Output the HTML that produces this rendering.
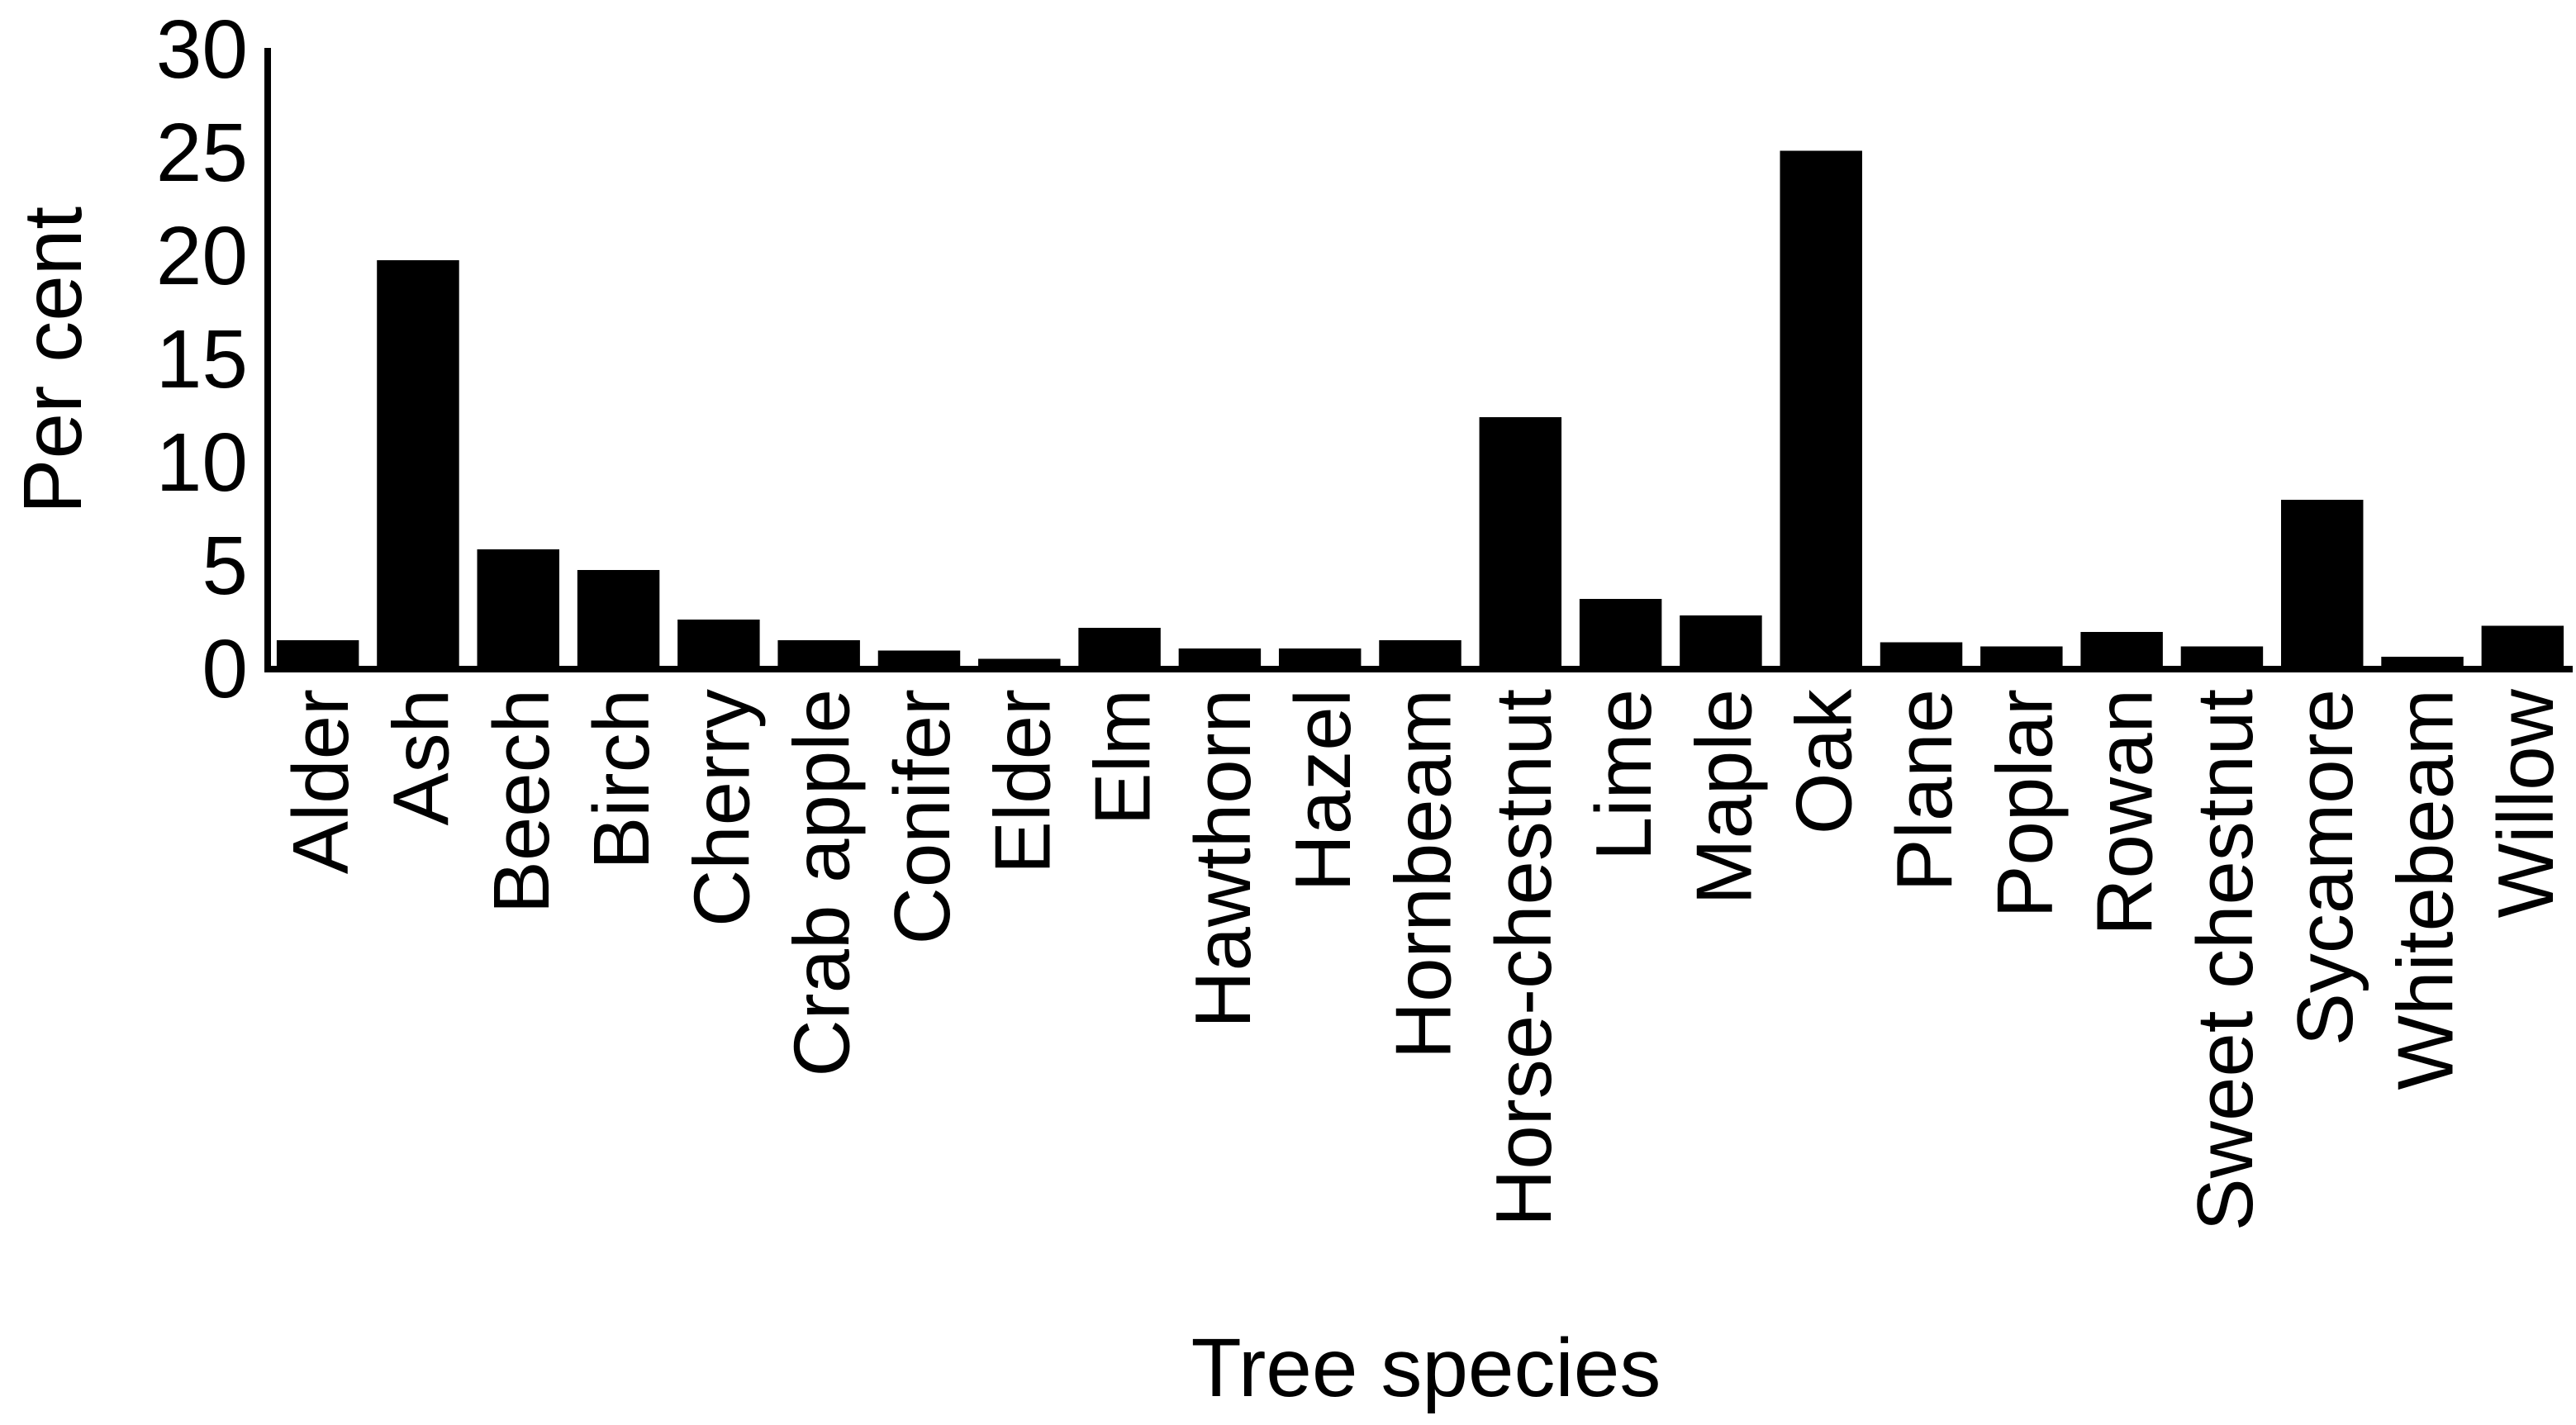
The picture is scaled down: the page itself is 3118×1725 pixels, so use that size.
<!DOCTYPE html>
<html><head><meta charset="utf-8"><style>
html,body{margin:0;padding:0;background:#fff;}
svg{display:block;font-family:"Liberation Sans",Arial,sans-serif;}
</style></head><body>
<svg id="chart" width="3118" height="1725" viewBox="0 0 3118 1725" xmlns="http://www.w3.org/2000/svg">
<rect width="3118" height="1725" fill="#fff"/>
<g id="bars"></g>
<g id="yticks"></g>
<g id="xlabels"></g>
<line x1="324" y1="58" x2="324" y2="814" stroke="#000" stroke-width="8"/>
<line x1="320" y1="810" x2="3114" y2="810" stroke="#000" stroke-width="8"/>
<text transform="translate(64,436) rotate(-90)" text-anchor="middle" dominant-baseline="central" font-size="100">Per cent</text>
<text x="1726" y="1690" text-anchor="middle" font-size="100">Tree species</text>
</svg>
<script>
const categories = ["Alder","Ash","Beech","Birch","Cherry","Crab apple","Conifer","Elder","Elm","Hawthorn","Hazel","Hornbeam","Horse-chestnut","Lime","Maple","Oak","Plane","Poplar","Rowan","Sweet chestnut","Sycamore","Whitebeam","Willow"];
const values = [1.4,19.8,5.8,4.8,2.4,1.4,0.9,0.5,2.0,1.0,1.0,1.4,12.2,3.4,2.6,25.1,1.3,1.1,1.8,1.1,8.2,0.6,2.1];
const yTicks = [0,5,10,15,20,25,30];
const NS="http://www.w3.org/2000/svg";
const x0=324, x1=3114, yBase=810, yTop=60, yMax=30;
const n=categories.length;
const bw=(x1-x0)/n;
function xCenter(i){return x0+bw*(i+0.5);}
function yScale(v){return yBase-(v/yMax)*(yBase-yTop);}
const gb=document.getElementById('bars');
const gy=document.getElementById('yticks');
const gx=document.getElementById('xlabels');
categories.forEach((c,i)=>{
  const r=document.createElementNS(NS,'rect');
  
  
  const w=bw*0.82;
  r.setAttribute('x',xCenter(i)-w/2);
  r.setAttribute('y',yScale(values[i]));
  r.setAttribute('width',w);
  r.setAttribute('height',yBase-yScale(values[i]));
  r.setAttribute('fill','#000');
  gb.appendChild(r);
  const t=document.createElementNS(NS,'text');
  
  
  t.setAttribute('transform','translate('+(xCenter(i)+4)+',834) rotate(-90)');
  t.setAttribute('text-anchor','end');
  t.setAttribute('dominant-baseline','central');
  t.setAttribute('font-size','96');
  t.textContent=c;
  gx.appendChild(t);
});
yTicks.forEach(v=>{
  const t=document.createElementNS(NS,'text');
  
  
  t.setAttribute('x',300);
  t.setAttribute('y',yScale(v));
  t.setAttribute('text-anchor','end');
  t.setAttribute('dominant-baseline','central');
  t.setAttribute('font-size','100');
  t.textContent=v;
  gy.appendChild(t);
});
</script>
</body></html>
